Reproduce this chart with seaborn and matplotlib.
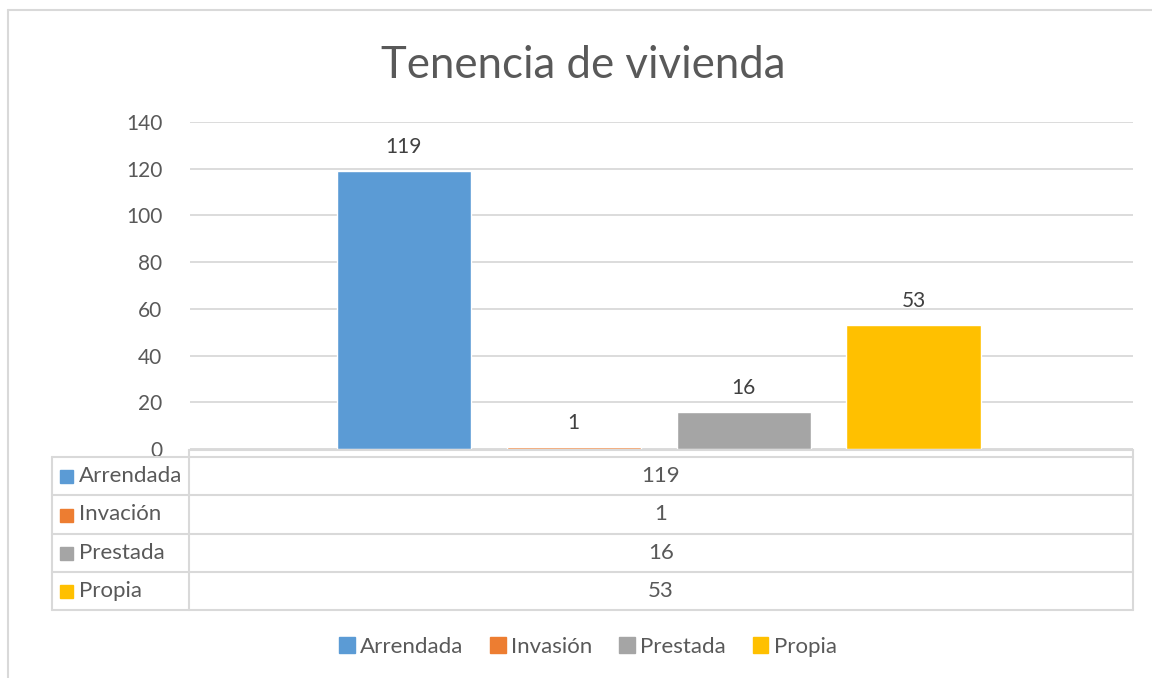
import matplotlib
matplotlib.use("Agg")
import matplotlib.pyplot as plt
import pandas as pd
import seaborn as sns
from matplotlib.lines import Line2D

sns.set_theme(style="white")
plt.rcParams["font.family"] = ["Lato", "DejaVu Sans"]

# Data
series = ["Arrendada", "Invación", "Prestada", "Propia"]
legend_names = ["Arrendada", "Invasión", "Prestada", "Propia"]
values = [119, 1, 16, 53]
colors = ["#5B9BD5", "#ED7D31", "#A5A5A5", "#FFC000"]

TEXT = "#595959"
GRID = "#D9D9D9"
W, H = 1152, 678
FS = 16

df = pd.DataFrame({"grupo": [""] * len(series), "serie": series, "valor": values})

fig = plt.figure(figsize=(W / 100, H / 100), dpi=100)


def fx(px):
    return px / W


def fy(py):
    return 1 - py / H


ax = fig.add_axes([fx(190), fy(449), fx(1133) - fx(190), fy(122) - fy(449)])
sns.barplot(data=df, x="grupo", y="valor", hue="serie", hue_order=series,
            palette=colors, width=0.721, gap=0.21, ax=ax, saturation=1,
            legend=False)
ax.set_xlim(-0.497, 0.503)
ax.set_ylim(0, 140)
ax.set_yticks(range(0, 141, 20))
ax.yaxis.grid(True, color=GRID, linewidth=1.3)
ax.set_axisbelow(True)
for s in ax.spines.values():
    s.set_visible(False)
ax.set_xlabel("")
ax.set_ylabel("")
ax.set_xticks([])
ax.tick_params(axis="y", length=0, pad=20, labelsize=15, labelcolor=TEXT)
for c in ax.containers:
    ax.bar_label(c, padding=10, fontsize=15, color="#404040")

fig.suptitle("Tenencia de vivienda", x=fx(583), y=fy(65), va="center",
             fontsize=31.5, color=TEXT)

# frame of the chart area
fig.add_artist(Line2D([fx(8), fx(8)], [fy(10), fy(678)], color=GRID, lw=1.5))
fig.add_artist(Line2D([fx(8), fx(1152)], [fy(10), fy(10)], color=GRID, lw=1.5))

# data table
rows_y = [457, 495, 534, 572, 610]
lc = "#D9D9D9"
fig.add_artist(Line2D([fx(189), fx(1133)], [fy(450), fy(450)], color=lc, lw=1.5))
fig.add_artist(Line2D([fx(189), fx(189)], [fy(450), fy(610)], color=lc, lw=1.5))
fig.add_artist(Line2D([fx(1133), fx(1133)], [fy(450), fy(610)], color=lc, lw=1.5))
fig.add_artist(Line2D([fx(52), fx(52)], [fy(457), fy(610)], color=lc, lw=1.5))
for y in rows_y:
    fig.add_artist(Line2D([fx(52), fx(1133)], [fy(y), fy(y)], color=lc, lw=1.5))
for i, (name, val, col) in enumerate(zip(series, values, colors)):
    yc = (rows_y[i] + rows_y[i + 1]) / 2
    fig.add_artist(plt.Rectangle((fx(60), fy(yc + 7)), fx(13), fy(0) - fy(13),
                                 color=col, transform=fig.transFigure))
    fig.text(fx(79), fy(yc), name, va="center", ha="left", fontsize=FS, color=TEXT)
    fig.text(fx(661), fy(yc), str(val), va="center", ha="center", fontsize=FS, color=TEXT)

# bottom legend
handles = [plt.Rectangle((0, 0), 1, 1, color=c) for c in colors]
fig.legend(handles, legend_names, loc="center", bbox_to_anchor=(fx(588), fy(647)),
           ncol=4, frameon=False, fontsize=FS, handlelength=0.7, handleheight=0.7,
           handletextpad=0.25, columnspacing=1.2, labelcolor=TEXT)

fig.savefig("out.png", dpi=100)
